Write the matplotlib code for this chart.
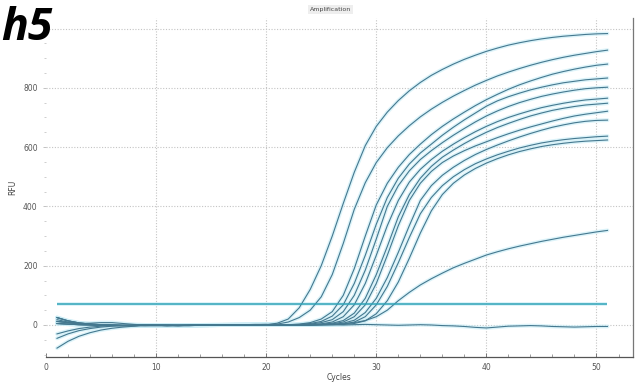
import matplotlib
matplotlib.use("Agg")
import matplotlib.pyplot as plt
from matplotlib.ticker import MultipleLocator

# Amplification run: RFU per cycle for each well
cycles = list(range(1, 52))

well_a = [25, 14, 7, 3, 1, 0, -1, -1, -2, -2, -2, -1, -1, -1, 0, 0, 0, 1, 1, 1,
          6, 20, 58, 120, 200, 300, 410, 515, 605, 670, 718, 757, 790, 818, 842, 862,
          880, 896, 910, 923, 934, 944, 952, 959, 965, 970, 974, 977, 980, 982, 983]
well_b = [12, 8, 4, 2, 0, -1, -2, -2, -1, -1, -2, -2, -1, 0, 0, 0, 1, 1, 0, 1,
          3, 10, 25, 50, 95, 170, 275, 390, 480, 548, 598, 638, 672, 702, 728, 751,
          772, 791, 809, 825, 840, 853, 865, 876, 886, 895, 903, 910, 916, 922, 927]
well_c = [18, 10, 5, 6, 8, 8, 5, 2, 0, -1, -2, -2, -1, -1, 0, 0, 0, 0, 1, 1,
          0, 1, 3, 8, 20, 45, 100, 190, 300, 405, 478, 532, 575, 610, 642, 670,
          695, 718, 740, 760, 778, 795, 810, 823, 835, 846, 855, 863, 870, 876, 880]
well_d = [25, 14, 7, 3, 1, 0, -1, -1, -2, -2, -2, -1, -1, -1, 0, 0, 0, 1, 1, 1,
          0, 1, 2, 5, 12, 30, 68, 140, 235, 340, 430, 495, 543, 580, 610, 640,
          667, 692, 715, 738, 756, 770, 782, 793, 802, 810, 817, 822, 827, 830, 833]
well_e = [5, 3, 1, 0, -1, -2, -2, -2, -1, -1, -1, -2, -2, -1, -1, 0, 0, 0, 1, 1,
          0, 0, 1, 3, 8, 18, 45, 100, 185, 290, 400, 470, 520, 558, 588, 615,
          640, 663, 685, 705, 722, 737, 750, 761, 771, 779, 786, 792, 797, 800, 802]
well_f = [-45, -30, -19, -12, -7, -4, -2, -1, 0, 0, 0, -1, -1, 0, 0, 1, 1, 1, 1, 2,
          0, 0, 1, 2, 4, 10, 28, 68, 140, 235, 335, 420, 482, 525, 558, 586,
          610, 632, 652, 670, 686, 700, 712, 723, 733, 741, 748, 754, 759, 762, 765]
well_g = [12, 8, 4, 2, 0, -1, -2, -2, -1, -1, -2, -2, -1, 0, 0, 0, 1, 1, 0, 1,
          0, 0, 0, 1, 2, 6, 15, 40, 90, 170, 265, 365, 440, 495, 535, 566,
          590, 612, 632, 650, 666, 680, 693, 705, 715, 724, 731, 737, 742, 745, 748]
well_h = [5, 3, 1, 0, -1, -2, -2, -2, -1, -1, -1, -2, -2, -1, -1, 0, 0, 0, 1, 1,
          0, 0, 0, 1, 2, 4, 10, 28, 68, 140, 235, 335, 420, 478, 518, 548,
          570, 588, 604, 618, 632, 645, 657, 668, 678, 688, 697, 705, 711, 716, 721]
well_i = [-30, -20, -12, -7, -4, -2, -1, 0, 0, 0, 0, -1, -1, -1, 0, 0, 0, 1, 1, 1,
          0, 0, 0, 0, 1, 2, 6, 16, 42, 90, 160, 245, 335, 420, 470, 505,
          532, 555, 575, 592, 607, 621, 634, 646, 657, 667, 675, 682, 687, 690, 691]
well_j = [-78, -55, -38, -26, -17, -11, -7, -4, -2, -1, 0, 0, 0, 0, 1, 1, 1, 1, 2, 2,
          0, 0, 0, 0, 1, 1, 3, 10, 28, 68, 130, 210, 295, 375, 430, 470,
          500, 524, 544, 560, 574, 586, 597, 606, 614, 620, 625, 629, 632, 635, 637]
well_k = [25, 14, 7, 3, 1, 0, -1, -1, -2, -2, -2, -1, -1, -1, 0, 0, 0, 1, 1, 1,
          0, 0, 0, 0, 0, 1, 2, 5, 14, 38, 82, 145, 225, 310, 385, 440,
          478, 506, 528, 546, 561, 574, 585, 594, 602, 608, 613, 617, 620, 622, 624]
well_l = [5, 3, 1, 0, -1, -2, -2, -2, -1, -1, -1, -2, -2, -1, -1, 0, 0, 0, 1, 1,
          0, 0, 0, 1, 1, 2, 4, 8, 15, 28, 50, 82, 110, 135, 156, 175,
          193, 208, 222, 236, 247, 257, 266, 274, 282, 289, 296, 302, 308, 314, 319]
well_m = [12, 8, 4, 2, 0, -1, -2, -2, -1, -1, -2, -2, -1, 0, 0, 0, 1, 1, 0, 1,
          1, 0, 1, 0, 2, 1, 0, 1, 2, 1, 0, -1, 0, 1, 0, -2,
          -3, -5, -8, -10, -7, -4, -3, -2, -3, -5, -6, -7, -6, -5, -5]

wells = [well_a, well_b, well_c, well_d, well_e, well_f, well_g,
         well_h, well_i, well_j, well_k, well_l, well_m]

threshold = 70

x_ticks = [0, 10, 20, 30, 40, 50]
y_ticks = [0, 200, 400, 600, 800]

line_color = "#44788f"
halo_color = "#cdeef7"
thr_color = "#2ea3b7"
grid_color = "#c4c4c4"
label_color = "#555555"

fig = plt.figure(figsize=(6.36, 3.86), dpi=100)
ax = fig.add_axes([0.0723, 0.0751, 0.9227, 0.8779])

ax.set_xlim(0, 53.3)
ax.set_ylim(-108, 1035)

# dotted grid
for gx in [10, 20, 30, 40, 50]:
    ax.axvline(gx, color=grid_color, lw=0.8, ls=(0, (1, 1.5)), zorder=0)
for gy in [0, 200, 400, 600, 800, 1000]:
    ax.axhline(gy, color=grid_color, lw=0.8, ls=(0, (1, 1.5)), zorder=0)

# amplification traces
for w in wells:
    ax.plot(cycles, w, color=halo_color, lw=2.8, alpha=0.7, solid_capstyle="round", zorder=2)
for w in wells:
    ax.plot(cycles, w, color=line_color, lw=0.8, zorder=3)

# threshold line
ax.hlines(threshold, cycles[0], cycles[-1], color=halo_color, lw=2.8, alpha=0.7, zorder=2)
ax.hlines(threshold, cycles[0], cycles[-1], color=thr_color, lw=1.1, zorder=4)

ax.set_xticks(x_ticks)
ax.set_yticks(y_ticks)
ax.xaxis.set_minor_locator(MultipleLocator(2))
ax.yaxis.set_minor_locator(MultipleLocator(50))
ax.tick_params(axis="x", which="major", direction="in", length=3, width=0.6,
               labelsize=5.5, labelcolor=label_color, color="#666666", pad=4)
ax.tick_params(axis="x", which="minor", direction="in", length=2, width=0.5, color="#777777")
ax.tick_params(axis="y", which="major", direction="out", length=2, width=0.5,
               labelsize=5.5, labelcolor=label_color, color="#aaaaaa", pad=4)
ax.tick_params(axis="y", which="minor", direction="out", length=1.5, width=0.5, color="#bbbbbb")

for side in ["top", "left"]:
    ax.spines[side].set_visible(False)
ax.spines["bottom"].set_color("#555555")
ax.spines["bottom"].set_linewidth(0.9)
ax.spines["right"].set_color("#777777")
ax.spines["right"].set_linewidth(0.9)

ax.set_xlabel("Cycles", fontsize=5.5, color="#444444", labelpad=1)
ax.set_ylabel("RFU", fontsize=5.5, color="#444444", labelpad=4)

fig.text(0.52, 0.975, "Amplification", fontsize=4.5, color="#444444", ha="center", va="center",
         bbox=dict(boxstyle="square,pad=0.3", fc="#eeeeee", ec="none"))

fig.text(0.002, 0.985, "h5", fontsize=32, fontweight="bold", fontstyle="italic",
         family="Open Sans", color="black", ha="left", va="top")

fig.savefig("out.png", dpi=100, facecolor="white")
